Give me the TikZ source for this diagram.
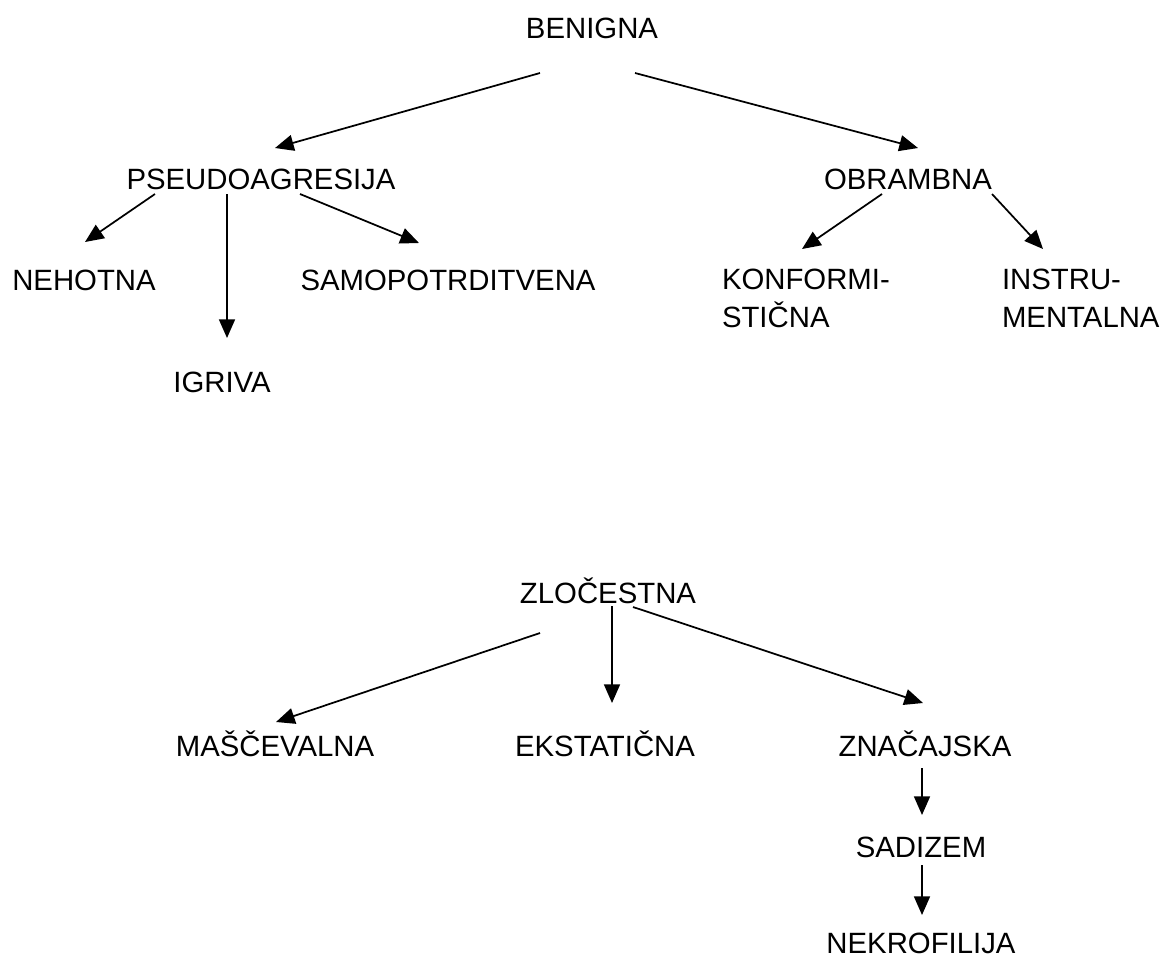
\documentclass[tikz,border=0pt]{standalone}
\usepackage{fontspec}
\setmainfont{Liberation Sans}
\usetikzlibrary{arrows.meta}
\tikzset{
  lbl/.style={inner sep=0pt, outer sep=0pt, anchor=base, font=\fontsize{22}{28.5}\selectfont},
  lblw/.style={lbl, anchor=base west},
  arr/.style={line width=1.3pt, -{Triangle[length=14pt,width=12pt]}}
}
\begin{document}
\begin{tikzpicture}[x=0.75pt,y=-0.75pt]
\useasboundingbox (0,0) rectangle (1163,958);
% top tree
\node[lbl] (benigna) at (592,38) {BENIGNA};
\node[lbl] (pseudo) at (261,189) {PSEUDOAGRESIJA};
\node[lbl] (obrambna) at (908,189) {OBRAMBNA};
\node[lbl] (nehotna) at (84,290) {NEHOTNA};
\node[lbl] (samo) at (448,290) {SAMOPOTRDITVENA};
\node[lbl] (igriva) at (222,392) {IGRIVA};
\node[lblw] (konf) at (722,289) {\vtop{\hbox{KONFORMI-}\hbox{STIČNA}}};
\node[lblw] (instru) at (1002,289) {\vtop{\hbox{INSTRU-}\hbox{MENTALNA}}};
\draw[arr] ([shift={(-52,35)}]benigna.base) -- ([shift={(14,-41)}]pseudo.base);
\draw[arr] ([shift={(43,35)}]benigna.base) -- ([shift={(10,-41)}]obrambna.base);
\draw[arr] ([shift={(-106,5)}]pseudo.base) -- ([shift={(1,-48)}]nehotna.base);
\draw[arr] ([shift={(-34,5)}]pseudo.base) -- ([shift={(5,-54)}]igriva.base);
\draw[arr] ([shift={(39,5)}]pseudo.base) -- ([shift={(-29,-47)}]samo.base);
\draw[arr] ([shift={(-26,5)}]obrambna.base) -- ([shift={(80,-40)}]konf.base west);
\draw[arr] ([shift={(84,5)}]obrambna.base) -- ([shift={(41,-40)}]instru.base west);
% bottom tree
\node[lbl] (zloc) at (608,603) {ZLOČESTNA};
\node[lbl] (masc) at (275,756) {MAŠČEVALNA};
\node[lbl] (ekst) at (605,756) {EKSTATIČNA};
\node[lbl] (znac) at (925,756) {ZNAČAJSKA};
\node[lbl] (sad) at (921,857) {SADIZEM};
\node[lbl] (nekro) at (921,953) {NEKROFILIJA};
\draw[arr] ([shift={(-68,30)}]zloc.base) -- ([shift={(1,-34)}]masc.base);
\draw[arr] ([shift={(4,3)}]zloc.base) -- ([shift={(7,-53)}]ekst.base);
\draw[arr] ([shift={(25,4)}]zloc.base) -- ([shift={(-2,-53)}]znac.base);
\draw[arr] ([shift={(-3,12)}]znac.base) -- ([shift={(1,-42)}]sad.base);
\draw[arr] ([shift={(1,8)}]sad.base) -- ([shift={(1,-38)}]nekro.base);
\end{tikzpicture}
\end{document}
